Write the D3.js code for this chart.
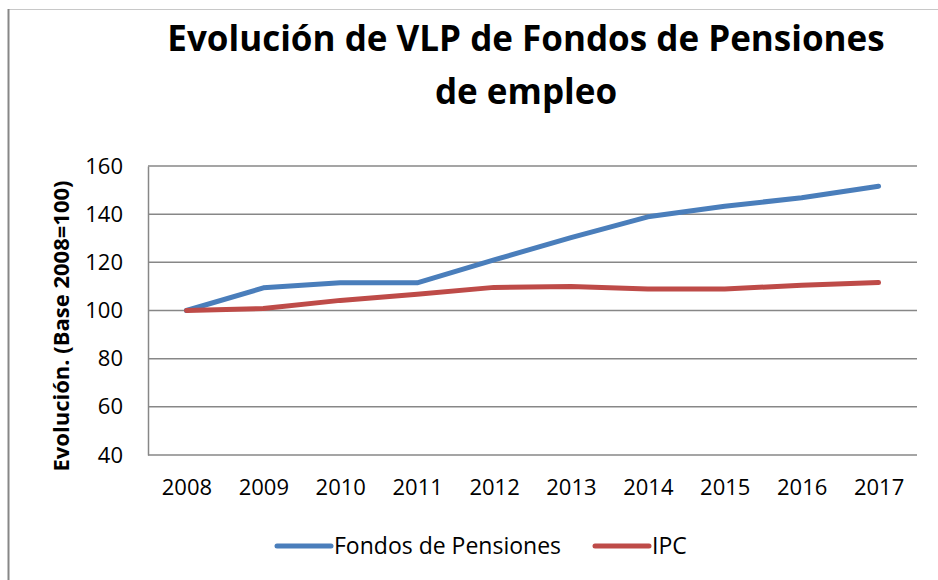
<!DOCTYPE html>
<html>
<head>
<meta charset="utf-8">
<script src="https://cdn.jsdelivr.net/npm/d3@7"></script>
<style>
  body { margin: 0; background: #fff; }
  svg { font-family: "Open Sans", sans-serif; }
</style>
</head>
<body>
<div id="chart"></div>
<script>
// chart data
const years = ["2008", "2009", "2010", "2011", "2012", "2013", "2014", "2015", "2016", "2017"];
const fondos = [100, 109.4, 111.5, 111.5, 121, 130.3, 138.9, 143.3, 146.8, 151.6];
const ipc = [100, 100.8, 104.2, 106.7, 109.6, 110, 108.9, 108.9, 110.5, 111.6];
const yTicks = [40, 60, 80, 100, 120, 140, 160];
const seriesNames = ["Fondos de Pensiones", "IPC"];

const width = 938, height = 580;
const margin = { top: 166, right: 21, bottom: 125, left: 148 };
const innerW = width - margin.left - margin.right;
const innerH = height - margin.top - margin.bottom;

const color = d3.scaleOrdinal().domain(seriesNames).range(["#4a7ebb", "#be4b48"]);

const svg = d3.select("#chart").append("svg")
    .attr("width", width)
    .attr("height", height);

// outer chart border (only the top and left edges fall inside the picture)
svg.append("line")
    .attr("x1", 8.5).attr("x2", width).attr("y1", 9.5).attr("y2", 9.5)
    .attr("stroke", "#c8c8c8").attr("stroke-width", 1);
svg.append("line")
    .attr("x1", 8.5).attr("x2", 8.5).attr("y1", 9).attr("y2", height)
    .attr("stroke", "#878787").attr("stroke-width", 2);

// title
svg.append("text")
    .attr("x", 526)
    .attr("y", 51)
    .attr("text-anchor", "middle")
    .style("font-size", "35px")
    .style("font-weight", "bold")
    .selectAll("tspan")
    .data(["Evolución de VLP de Fondos de Pensiones", "de empleo"])
    .enter().append("tspan")
    .attr("x", 526)
    .attr("dy", (d, i) => i === 0 ? 0 : 53)
    .text(d => d);

const g = svg.append("g")
    .attr("transform", `translate(${margin.left},${margin.top})`);

const x = d3.scalePoint()
    .domain(years)
    .range([0, innerW])
    .padding(0.5);

const y = d3.scaleLinear()
    .domain([40, 160])
    .range([innerH, 0]);

// gridlines
g.append("g")
    .selectAll("line")
    .data(yTicks)
    .enter().append("line")
    .attr("x1", 0)
    .attr("x2", innerW)
    .attr("y1", d => y(d))
    .attr("y2", d => y(d))
    .attr("stroke", "#878787")
    .attr("stroke-width", 1.5);

// y axis
const yAxis = g.append("g")
    .call(d3.axisLeft(y).tickValues(yTicks).tickSize(0).tickPadding(25));
yAxis.select(".domain").attr("stroke", "#878787").attr("stroke-width", 1.5);
yAxis.selectAll("text")
    .style("font-size", "22px")
    .style("font-family", "'Open Sans', sans-serif")
    .attr("fill", "#000");

// x axis (labels only)
const xAxis = g.append("g")
    .attr("transform", `translate(0,${innerH})`)
    .call(d3.axisBottom(x).tickSize(0).tickPadding(24));
xAxis.select(".domain").remove();
xAxis.selectAll("text")
    .style("font-size", "22px")
    .style("font-family", "'Open Sans', sans-serif")
    .attr("fill", "#000");

// y axis title
svg.append("text")
    .attr("transform", `translate(69,326) rotate(-90)`)
    .attr("text-anchor", "middle")
    .style("font-size", "22px")
    .style("font-weight", "bold")
    .text("Evolución. (Base 2008=100)");

// lines
const line = d3.line()
    .x((d, i) => x(years[i]))
    .y(d => y(d));

[fondos, ipc].forEach((values, i) => {
    g.append("path")
        .datum(values)
        .attr("fill", "none")
        .attr("stroke", color(seriesNames[i]))
        .attr("stroke-width", 5)
        .attr("stroke-linecap", "round")
        .attr("stroke-linejoin", "round")
        .attr("d", line);
});

// legend
const legendX = [277, 595];
const legend = svg.selectAll(".legend")
    .data(seriesNames)
    .enter().append("g")
    .attr("class", "legend")
    .attr("transform", (d, i) => `translate(${legendX[i]},546)`);

legend.append("line")
    .attr("x1", 0).attr("x2", 54)
    .attr("stroke", d => color(d))
    .attr("stroke-width", 5)
    .attr("stroke-linecap", "round");

legend.append("text")
    .attr("x", 57)
    .attr("dy", "0.35em")
    .style("font-size", "23px")
    .text(d => d);
</script>
</body>
</html>
